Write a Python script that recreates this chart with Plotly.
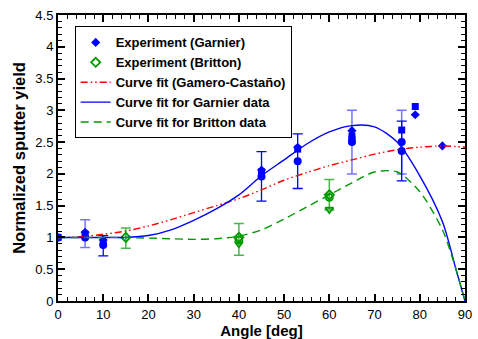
import plotly.graph_objects as go

# Garnier experiment (several symbol sets)
garnier_diamond_x = [0, 6, 10, 45, 53, 65, 79, 85]
garnier_diamond_y = [1.0, 1.08, 0.96, 2.06, 2.42, 2.68, 2.93, 2.44]
garnier_square_x = [0, 6, 10, 45, 53, 65, 65, 76, 79]
garnier_square_y = [1.0, 1.05, 0.92, 2.03, 2.39, 2.59, 2.54, 2.69, 3.06]
garnier_circle_x = [0, 6, 10, 45, 53, 65, 76, 76]
garnier_circle_y = [1.0, 1.0, 0.88, 1.96, 2.2, 2.5, 2.5, 2.36]

# Garnier error bars (two sets)
garnier_err_dark_x = [10, 45, 53, 76]
garnier_err_dark_y = [0.87, 1.96, 2.2, 2.36]
garnier_err_dark_e = [0.16, 0.39, 0.43, 0.47]
garnier_err_light_x = [6, 65, 76]
garnier_err_light_y = [1.06, 2.5, 2.5]
garnier_err_light_e = [0.22, 0.5, 0.5]

# Britton experiment
britton_diamond_x = [15, 40, 60]
britton_diamond_y = [1.0, 1.0, 1.67]
britton_circle_x = [40, 60]
britton_circle_y = [0.96, 1.63]
britton_tri_x = [40, 60]
britton_tri_y = [0.9, 1.44]
britton_err_x = [15, 40, 60]
britton_err_y = [0.99, 0.97, 1.67]
britton_err_e = [0.16, 0.25, 0.24]

# Curve fits
fit_angle = [0, 5, 10, 15, 20, 25, 30, 35, 40, 45, 50, 55, 60, 65, 70, 75, 80, 85, 88, 90]
gamero_fit = [1.0, 1.01, 1.05, 1.1, 1.18, 1.28, 1.39, 1.5, 1.61, 1.75, 1.9, 2.02, 2.13, 2.22, 2.31, 2.38, 2.42, 2.44, 2.43, 2.42]
garnier_fit = [1.0, 1.0, 1.0, 1.0, 1.03, 1.12, 1.27, 1.45, 1.67, 1.97, 2.22, 2.47, 2.66, 2.76, 2.74, 2.5, 1.97, 1.25, 0.5, 0.0]
britton_fit = [1.0, 1.0, 1.0, 1.0, 0.99, 0.98, 0.97, 0.98, 1.02, 1.12, 1.29, 1.48, 1.67, 1.86, 2.03, 2.03, 1.72, 1.12, 0.5, 0.0]

BLUE = "#0000ff"
LBLUE = "rgba(70,70,255,0.75)"
GREEN = "#009a00"
LGREEN = "rgba(0,150,0,0.7)"
RED = "#ff0000"

fig = go.Figure()

# error bars first
fig.add_trace(go.Scatter(x=garnier_err_light_x, y=garnier_err_light_y, mode="markers",
                         marker=dict(size=1, color=LBLUE, opacity=0), showlegend=False,
                         error_y=dict(type="data", array=garnier_err_light_e, color=LBLUE, thickness=1.5, width=5)))
fig.add_trace(go.Scatter(x=garnier_err_dark_x, y=garnier_err_dark_y, mode="markers",
                         marker=dict(size=1, color=BLUE, opacity=0), showlegend=False,
                         error_y=dict(type="data", array=garnier_err_dark_e, color=BLUE, thickness=1.3, width=5)))
fig.add_trace(go.Scatter(x=britton_err_x, y=britton_err_y, mode="markers",
                         marker=dict(size=1, color=GREEN, opacity=0), showlegend=False,
                         error_y=dict(type="data", array=britton_err_e, color=LGREEN, thickness=1.5, width=5)))

# markers
fig.add_trace(go.Scatter(x=garnier_diamond_x, y=garnier_diamond_y, mode="markers", name="<b>Experiment (Garnier)</b>",
                         marker=dict(symbol="diamond", size=7, color=BLUE, line=dict(width=0))))
fig.add_trace(go.Scatter(x=britton_diamond_x, y=britton_diamond_y, mode="markers", name="<b>Experiment (Britton)</b>",
                         marker=dict(symbol="diamond-open", size=7, color=GREEN, line=dict(width=1.8))))
fig.add_trace(go.Scatter(x=garnier_square_x, y=garnier_square_y, mode="markers", showlegend=False,
                         marker=dict(symbol="square", size=7, color=BLUE, line=dict(width=0))))
fig.add_trace(go.Scatter(x=garnier_circle_x, y=garnier_circle_y, mode="markers", showlegend=False,
                         marker=dict(symbol="circle", size=8, color=BLUE, line=dict(width=0))))
fig.add_trace(go.Scatter(x=britton_circle_x, y=britton_circle_y, mode="markers", showlegend=False,
                         marker=dict(symbol="circle-open", size=7, color=GREEN, line=dict(width=1.8))))
fig.add_trace(go.Scatter(x=britton_tri_x, y=britton_tri_y, mode="markers", showlegend=False,
                         marker=dict(symbol="triangle-down-open", size=7, color=GREEN, line=dict(width=1.8))))

# fits
fig.add_trace(go.Scatter(x=fit_angle, y=gamero_fit, mode="lines", name="<b>Curve fit (Gamero-Castaño)</b>",
                         line=dict(color=RED, width=1.4, dash="7px,3px,1.5px,3px,1.5px,3px", shape="spline", smoothing=0.8)))
fig.add_trace(go.Scatter(x=fit_angle, y=garnier_fit, mode="lines", name="<b>Curve fit for Garnier data</b>",
                         line=dict(color=BLUE, width=1.4, shape="spline", smoothing=0.8)))
fig.add_trace(go.Scatter(x=fit_angle, y=britton_fit, mode="lines", name="<b>Curve fit for Britton data</b>",
                         line=dict(color=GREEN, width=1.4, dash="8px,5px", shape="spline", smoothing=0.8)))

axis_common = dict(showgrid=False, zeroline=False, showline=True, linecolor="black", linewidth=2,
                   mirror="ticks", ticks="inside", tickcolor="black", tickwidth=1.5,
                   tickfont=dict(family="Arial, Liberation Sans", size=13, color="black"))

fig.update_layout(
    width=478, height=339,
    margin=dict(l=58, r=6, t=15, b=34),
    paper_bgcolor="white", plot_bgcolor="white",
    font=dict(family="Arial, Liberation Sans", color="black"),
    xaxis=dict(range=[0, 90], dtick=10, ticklen=7,
               minor=dict(dtick=2, ticks="inside", ticklen=4, tickcolor="black", tickwidth=1),
               title=dict(text="<b>Angle [deg]</b>", font=dict(size=15), standoff=1),
               **axis_common),
    yaxis=dict(range=[0, 4.5], dtick=0.5, ticklen=7,
               minor=dict(dtick=0.1, ticks="inside", ticklen=4, tickcolor="black", tickwidth=1),
               title=dict(text="<b>Normalized sputter yield</b>", font=dict(size=16.5), standoff=6),
               **axis_common),
    legend=dict(x=0.041, y=0.96, xanchor="left", yanchor="top",
                bgcolor="white", bordercolor="black", borderwidth=1,
                font=dict(family="Arial, Liberation Sans", size=13, color="black"),
                tracegroupgap=0, itemwidth=30),
    showlegend=True,
)

fig.write_html("out.html")
